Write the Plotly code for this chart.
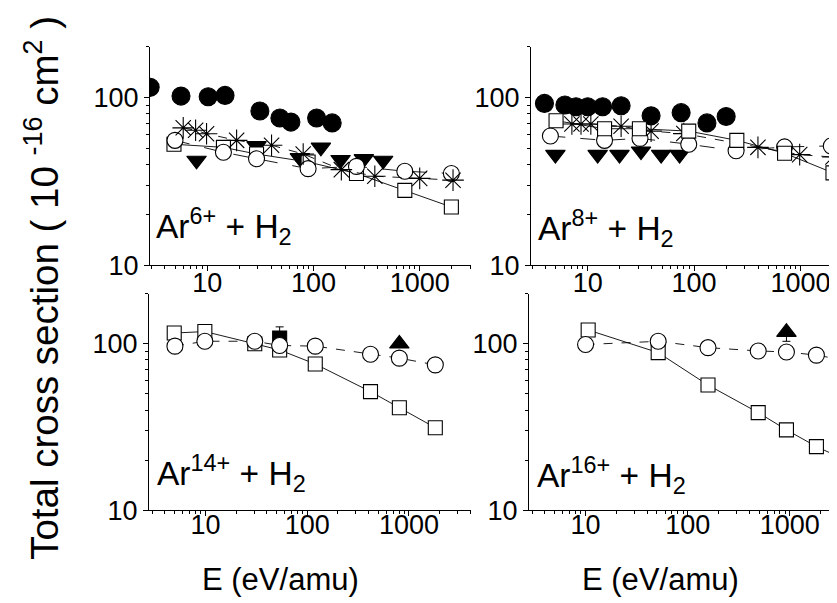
import plotly.graph_objects as go

FONT = "Liberation Sans, Arial, sans-serif"

# ---------------- data ----------------
# Ar6+ + H2 (top-left)
a6_fc_x = [2.9, 5.66, 10.2, 14.7, 31.3, 48.3, 61.3, 107, 150]
a6_fc_y = [115, 102, 101, 103, 83.2, 75.5, 71.4, 75.5, 70.6]
a6_tri_x = [7.93, 29.1, 74.5, 117.5, 180, 298, 453]
a6_tri_y = [42.2, 51.5, 43.7, 50.5, 42.6, 43.1, 42.2]
a6_star_x = [5.94, 7.77, 9.85, 18.9, 40.3, 80, 183, 378, 1000, 2060]
a6_star_y = [66, 63.8, 60.9, 55.6, 52, 46.1, 37.2, 34, 33, 32.2]
a6_oc_x = [4.97, 14.2, 29.1, 89, 254, 724, 1987]
a6_oc_y = [55.6, 47.2, 43.2, 37.7, 38.9, 36.4, 35.3]
a6_sq_x = [4.86, 14.2, 29.1, 89, 254, 724, 1987]
a6_sq_y = [52.7, 50.5, 46.1, 41.3, 35.3, 28, 22.3]

# Ar8+ + H2 (top-right)
a8_fc_x = [3.92, 6.1, 7.76, 10, 13.8, 20.6, 39.4, 75.5, 132, 200]
a8_fc_y = [92.3, 90.2, 88.1, 88.1, 88.1, 89.3, 77.8, 81.3, 70.6, 77.1]
a8_tri_x = [4.97, 12.4, 19.9, 31.7, 49, 73]
a8_tri_y = [45.7, 45.7, 45.7, 47.9, 45.7, 45.7]
a8_star_x = [7.1, 8.65, 10.7, 20.6, 39.4, 80, 398, 982, 2018]
a8_star_y = [69.6, 69.6, 69.6, 67.4, 63.1, 61, 50.5, 45.7, 44.2]
a8_oc_x = [4.46, 14.4, 31, 89, 248, 708, 1945]
a8_oc_y = [59, 55.6, 57.1, 52.7, 48.2, 50.8, 51.5]
a8_sq_x = [5.04, 14.4, 30.6, 89, 252, 708, 2018]
a8_sq_y = [72.8, 65.2, 65.2, 63.1, 55.6, 46.6, 35.6]

# Ar14+ + H2 (bottom-left)
a14_fs_x = [53.6]
a14_fs_y = [108.4]
a14_fs_err = [18]
a14_tri_x = [805]
a14_tri_y = [100]
a14_sq_x = [4.93, 9.86, 30.5, 53.6, 120, 419, 805, 1816]
a14_sq_y = [116, 118.5, 100, 91.8, 75.6, 51.6, 41.3, 31.3]
a14_oc_x = [5.01, 9.86, 30.5, 53.6, 120, 419, 805, 1816]
a14_oc_y = [96.8, 103.6, 103.6, 97.7, 96.8, 86.6, 82, 74.7]

# Ar16+ + H2 (bottom-right)
a16_tri_x = [926]
a16_tri_y = [117.5]
a16_tri_err = [14]
a16_sq_x = [10.6, 51.4, 158, 490, 926, 1820, 2970]
a16_sq_y = [121, 88.5, 56.5, 38.6, 30.4, 24.1, 21]
a16_oc_x = [10, 51.4, 158, 490, 926, 1820, 2970]
a16_oc_y = [99, 103.5, 94.8, 90.6, 89.3, 85.5, 81]

x_tick_vals = [10, 100, 1000]
x_tick_text = ["10", "100", "1000"]
y_tick_vals = [10, 100]
y_tick_text = ["10", "100"]
x_minor_vals = [m * 10 ** k for k in range(0, 4) for m in range(2, 10)]
y_minor_vals = [m * 10 ** k for k in range(1, 3) for m in range(2, 10)]

panel_labels = ["Ar<sup>6+</sup> + H<sub>2</sub>", "Ar<sup>8+</sup> + H<sub>2</sub>",
                "Ar<sup>14+</sup> + H<sub>2</sub>", "Ar<sup>16+</sup> + H<sub>2</sub>"]
x_title = "E (eV/amu)"
y_title = "Total cross section ( 10 <sup>-16</sup> cm<sup>2</sup> )"

# ---------------- figure ----------------
fig = go.Figure()

def add(xs, ys, ax, symbol, size, fill, line=None, err=None, errminus=None):
    kw = {}
    if err is not None:
        kw["error_y"] = dict(type="data", array=err,
                             arrayminus=errminus if errminus is not None else [0] * len(err),
                             color="black", thickness=1, width=4)
    fig.add_trace(go.Scatter(
        x=xs, y=ys, xaxis="x" + ax, yaxis="y" + ax,
        mode="lines+markers" if line else "markers",
        line=dict(color="black", width=0.9, dash=line) if line else None,
        marker=dict(symbol=symbol, size=size, color=fill,
                    line=dict(color="black", width=1.1)),
        hoverinfo="skip", **kw))

# top-left
add(a6_fc_x, a6_fc_y, "", "circle", 18, "black")
add(a6_tri_x, a6_tri_y, "", "triangle-down", 17, "black")
add(a6_sq_x, a6_sq_y, "", "square", 14, "white", "solid")
add(a6_oc_x, a6_oc_y, "", "circle", 16, "white", "longdash")
add(a6_star_x, a6_star_y, "", "asterisk-open", 18, "black", "dash")
# top-right
add(a8_fc_x, a8_fc_y, "2", "circle", 18, "black")
add(a8_tri_x, a8_tri_y, "2", "triangle-down", 17, "black")
add(a8_star_x, a8_star_y, "2", "asterisk-open", 18, "black", "dash")
add(a8_oc_x, a8_oc_y, "2", "circle", 16, "white", "longdash")
add(a8_sq_x, a8_sq_y, "2", "square", 14, "white", "solid")
# bottom-left
add(a14_fs_x, a14_fs_y, "3", "square", 14, "black", err=a14_fs_err)
add(a14_sq_x, a14_sq_y, "3", "square", 14, "white", "solid")
add(a14_oc_x, a14_oc_y, "3", "circle", 16, "white", "dash")
add(a14_tri_x, a14_tri_y, "3", "triangle-up", 17, "black")
# bottom-right
add(a16_sq_x, a16_sq_y, "4", "square", 14, "white", "solid")
add(a16_oc_x, a16_oc_y, "4", "circle", 16, "white", "dash")
add(a16_tri_x, a16_tri_y, "4", "triangle-up", 17, "black", err=[0], errminus=a16_tri_err)

# empty traces so the overlay axes carrying the minor ticks get drawn
for k in ("5", "6", "7", "8"):
    fig.add_trace(go.Scatter(x=[None], y=[None], xaxis="x" + k, yaxis="y" + k,
                             mode="markers", hoverinfo="skip", showlegend=False))

W, H = 837, 603

def xax(d0, d1, rng, anchor, standoff):
    return dict(type="log", domain=[d0 / W, d1 / W], range=rng, anchor=anchor,
                showline=True, linecolor="black", linewidth=1,
                ticks="outside", ticklen=5, tickwidth=1, tickcolor="black",
                tickmode="array", tickvals=x_tick_vals, ticktext=x_tick_text,
                tickfont=dict(family=FONT, size=27, color="black"),
                ticklabelstandoff=standoff,
                showgrid=False, zeroline=False)

def yax(p_top, p_bot, anchor):
    return dict(type="log", domain=[1 - p_bot / H, 1 - p_top / H], range=[1, 2.301], anchor=anchor,
                showline=True, linecolor="black", linewidth=1,
                ticks="outside", ticklen=5, tickwidth=1, tickcolor="black",
                tickmode="array", tickvals=y_tick_vals, ticktext=y_tick_text,
                tickfont=dict(family=FONT, size=27, color="black"),
                showgrid=False, zeroline=False)

def xminor(base, d0, d1, rng, anchor):
    return dict(type="log", overlaying=base, domain=[d0 / W, d1 / W], range=rng, anchor=anchor,
                showline=False, ticks="outside", ticklen=3, tickwidth=1, tickcolor="black",
                tickmode="array", tickvals=x_minor_vals, showticklabels=False,
                showgrid=False, zeroline=False)

def yminor(base, p_top, p_bot, anchor):
    return dict(type="log", overlaying=base, domain=[1 - p_bot / H, 1 - p_top / H], range=[1, 2.301],
                anchor=anchor, showline=False, ticks="outside", ticklen=3, tickwidth=1,
                tickcolor="black", tickmode="array", tickvals=y_minor_vals, showticklabels=False,
                showgrid=False, zeroline=False)

fig.update_layout(
    width=W, height=H, margin=dict(l=0, r=0, t=0, b=0),
    paper_bgcolor="white", plot_bgcolor="white", showlegend=False,
    font=dict(family=FONT, color="black"),
    xaxis=xax(142, 463, [0.461, 3.483], "y", -12),
    yaxis=yax(40, 264, "x"),
    xaxis2=xax(523, 837, [0.467, 3.418], "y2", -12),
    yaxis2=yax(40, 264, "x2"),
    xaxis3=xax(141, 463, [0.445, 3.61], "y3", -15),
    yaxis3=yax(293, 515, "x3"),
    xaxis4=xax(521, 837, [0.446, 3.54], "y4", -15),
    yaxis4=yax(293, 515, "x4"),
    xaxis5=xminor("x", 142, 463, [0.461, 3.483], "y5"),
    xaxis6=xminor("x2", 523, 837, [0.467, 3.418], "y6"),
    xaxis7=xminor("x3", 141, 463, [0.445, 3.61], "y7"),
    xaxis8=xminor("x4", 521, 837, [0.446, 3.54], "y8"),
    yaxis5=yminor("y", 40, 264, "x5"),
    yaxis6=yminor("y2", 40, 264, "x6"),
    yaxis7=yminor("y3", 293, 515, "x7"),
    yaxis8=yminor("y4", 293, 515, "x8"),
)

label_pos = [(146, 250), (528, 252), (147, 504), (527, 506)]
for txt, (px, py) in zip(panel_labels, label_pos):
    fig.add_annotation(text=txt, xref="paper", yref="paper", x=px / W, y=1 - py / H,
                       xanchor="left", yanchor="bottom", showarrow=False,
                       font=dict(family=FONT, size=33.5, color="black"))

for cx in (272, 652):
    fig.add_annotation(text=x_title, xref="paper", yref="paper", x=cx / W, y=1 - 586 / H,
                       xanchor="center", yanchor="middle", showarrow=False,
                       font=dict(family=FONT, size=31, color="black"))

fig.add_annotation(text=y_title, xref="paper", yref="paper", x=34 / W, y=1 - 287 / H,
                   xanchor="center", yanchor="middle", textangle=-90, showarrow=False,
                   font=dict(family=FONT, size=38.5, color="black"))

fig.write_html("out.html")
